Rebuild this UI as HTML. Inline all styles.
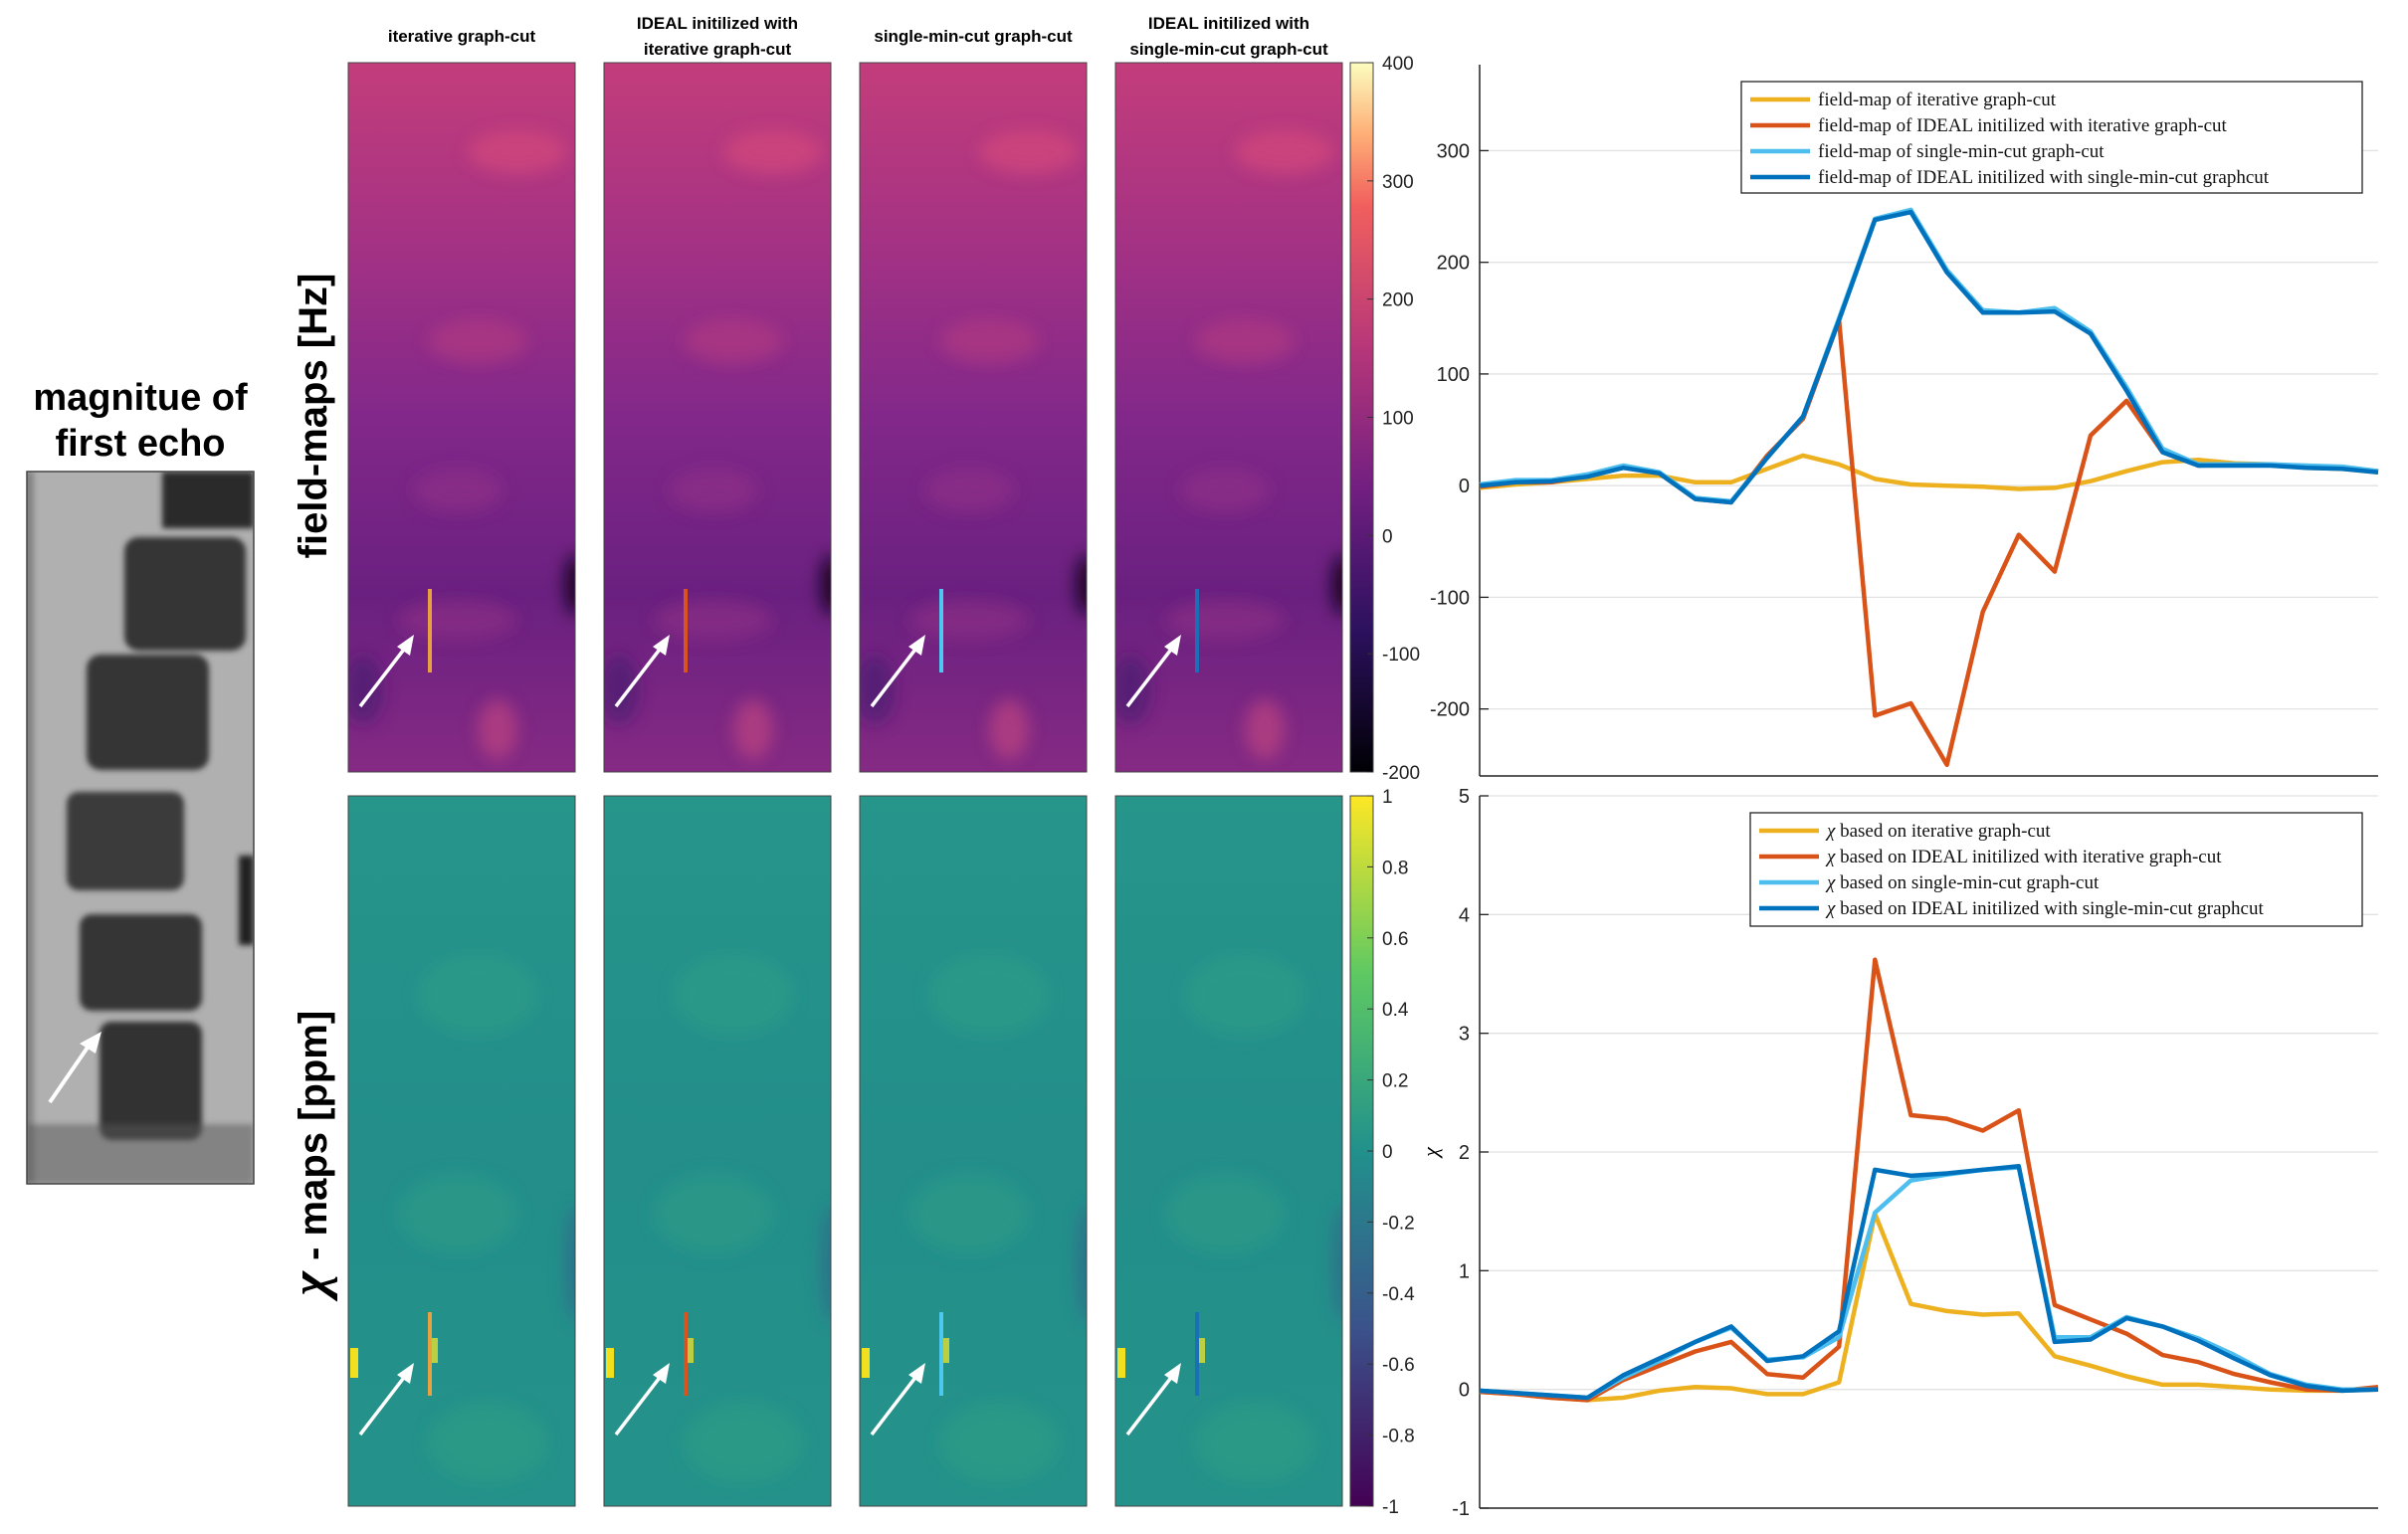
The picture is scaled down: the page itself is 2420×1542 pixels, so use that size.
<!DOCTYPE html>
<html><head><meta charset="utf-8">
<style>
html,body{margin:0;padding:0;background:#fff;}
svg{display:block;}
.t{font-family:"Liberation Sans",sans-serif;}
.s{font-family:"Liberation Serif",serif;}
</style></head>
<body>
<svg id="fig" width="2420" height="1542" viewBox="0 0 2420 1542" xmlns="http://www.w3.org/2000/svg">
<defs>
  <linearGradient id="fmGrad" x1="0" y1="0" x2="0" y2="1">
    <stop offset="0" stop-color="#c33d7b"/>
    <stop offset="0.25" stop-color="#a53284"/>
    <stop offset="0.5" stop-color="#82288a"/>
    <stop offset="0.75" stop-color="#6a2080"/>
    <stop offset="1" stop-color="#852a84"/>
  </linearGradient>
  <linearGradient id="chiGrad" x1="0" y1="0" x2="0" y2="1">
    <stop offset="0" stop-color="#26958a"/>
    <stop offset="0.5" stop-color="#238e8a"/>
    <stop offset="1" stop-color="#24928a"/>
  </linearGradient>
  <linearGradient id="magma" x1="0" y1="1" x2="0" y2="0">
    <stop offset="0" stop-color="#000004"/>
    <stop offset="0.2" stop-color="#2c115f"/>
    <stop offset="0.4" stop-color="#721f81"/>
    <stop offset="0.6" stop-color="#b73779"/>
    <stop offset="0.8" stop-color="#f1605d"/>
    <stop offset="0.9" stop-color="#feaf77"/>
    <stop offset="1" stop-color="#fcfdbf"/>
  </linearGradient>
  <linearGradient id="viridis" x1="0" y1="1" x2="0" y2="0">
    <stop offset="0" stop-color="#440154"/>
    <stop offset="0.25" stop-color="#3b528b"/>
    <stop offset="0.5" stop-color="#21918c"/>
    <stop offset="0.75" stop-color="#5ec962"/>
    <stop offset="1" stop-color="#fde725"/>
  </linearGradient>
  <filter id="blur"><feGaussianBlur stdDeviation="8"/></filter>
  <filter id="blur2"><feGaussianBlur stdDeviation="3"/></filter>
  <clipPath id="magClip"><rect x="27" y="474" width="228" height="716"/></clipPath>
</defs>

<!-- magnitude image -->
<text class="t" x="141" y="412" font-size="38" font-weight="bold" text-anchor="middle">magnitue of</text>
<text class="t" x="141" y="458" font-size="38" font-weight="bold" text-anchor="middle">first echo</text>
<g>
  <g clip-path="url(#magClip)">
  <rect x="27" y="474" width="228" height="716" fill="#b0b0b0"/>
  <g filter="url(#blur2)">
  <rect x="20" y="474" width="14" height="716" fill="#555" opacity="0.5"/>
  <rect x="163" y="474" width="92" height="57" fill="#2a2a2a"/>
  <rect x="125" y="540" width="122" height="114" rx="14" fill="#353535"/>
  <rect x="87" y="658" width="123" height="116" rx="14" fill="#363636"/>
  <rect x="67" y="796" width="118" height="99" rx="12" fill="#3a3a3a"/>
  <rect x="80" y="919" width="123" height="97" rx="12" fill="#363636"/>
  <rect x="100" y="1027" width="103" height="119" rx="12" fill="#333"/>
  <rect x="27" y="1130" width="228" height="60" fill="#555" opacity="0.5"/>
  <rect x="240" y="860" width="15" height="90" fill="#222"/>
  </g>
  </g>
  <rect x="27" y="474" width="228" height="716" fill="none" stroke="#444" stroke-width="1.5"/>
  <line x1="50" y1="1108" x2="92" y2="1047" stroke="#fff" stroke-width="4"/>
  <polygon points="102,1037 80,1049 96,1059" fill="#fff"/>
</g>

<!-- row labels -->
<text class="t" transform="translate(328,418) rotate(-90)" font-size="40" font-weight="bold" text-anchor="middle">field-maps [Hz]</text>
<text class="t" transform="translate(328,1159) rotate(-90)" font-size="40" font-weight="bold" text-anchor="middle"><tspan class="s" font-style="italic" font-size="52">χ</tspan> - maps [ppm]</text>

<!-- column titles -->
<text class="t" x="464" y="42" font-size="17" font-weight="bold" text-anchor="middle">iterative graph-cut</text>
<text class="t" x="721" y="29" font-size="17" font-weight="bold" text-anchor="middle">IDEAL initilized with</text>
<text class="t" x="721" y="55" font-size="17" font-weight="bold" text-anchor="middle">iterative graph-cut</text>
<text class="t" x="978" y="42" font-size="17" font-weight="bold" text-anchor="middle">single-min-cut graph-cut</text>
<text class="t" x="1235" y="29" font-size="17" font-weight="bold" text-anchor="middle">IDEAL initilized with</text>
<text class="t" x="1235" y="55" font-size="17" font-weight="bold" text-anchor="middle">single-min-cut graph-cut</text>

<g id="panels"></g>

<!-- colorbars -->
<g>
  <rect x="1357" y="63" width="23" height="713" fill="url(#magma)" stroke="#444" stroke-width="1"/>
</g>
<g>
  <rect x="1357" y="800" width="23" height="714" fill="url(#viridis)" stroke="#444" stroke-width="1"/>
</g>
<g id="cbticks"></g>

<g id="chartTop"></g>
<g id="chartBot"></g>
</svg>

<script>
// ===== chart data =====
const xIndex = [0,1,2,3,4,5,6,7,8,9,10,11,12,13,14,15,16,17,18,19,20,21,22,23,24,25];
const fmIterative = [-2,1,3,6,9,9,3,3,15,27,19,6,1,0,-1,-3,-2,4,13,21,23,20,19,16,15,12];
const fmIdealIterative = [-1,3,3,9,16,11,-12,-15,27,60,148,-206,-195,-250,-113,-44,-77,45,76,30,18,19,19,17,16,13];
const fmSingleMinCut = [1,5,5,10,18,12,-11,-14,25,62,150,239,247,193,157,155,159,138,88,33,19,19,19,18,17,13];
const fmIdealSingle = [0,3,4,8,16,11,-12,-15,25,62,148,238,245,191,155,155,156,136,85,30,18,18,18,16,15,12];
const fmTicks = [-200,-100,0,100,200,300];
const fmLegend = ["field-map of iterative graph-cut","field-map of IDEAL initilized with iterative graph-cut","field-map of single-min-cut graph-cut","field-map of IDEAL initilized with single-min-cut graphcut"];

const chiIterative = [-0.02,-0.04,-0.07,-0.09,-0.07,-0.01,0.02,0.01,-0.04,-0.04,0.06,1.48,0.72,0.66,0.63,0.64,0.28,0.2,0.11,0.04,0.04,0.02,0.0,-0.01,-0.01,0.0];
const chiIdealIterative = [-0.02,-0.04,-0.07,-0.09,0.08,0.2,0.32,0.4,0.13,0.1,0.36,3.62,2.31,2.28,2.18,2.35,0.71,0.59,0.47,0.29,0.23,0.13,0.06,0.0,-0.01,0.02];
const chiSingleMinCut = [-0.01,-0.03,-0.05,-0.07,0.1,0.24,0.4,0.52,0.25,0.27,0.44,1.49,1.76,1.81,1.85,1.87,0.44,0.44,0.61,0.53,0.43,0.29,0.13,0.04,0,0];
const chiIdealSingle = [-0.01,-0.03,-0.05,-0.07,0.12,0.26,0.4,0.53,0.24,0.28,0.49,1.85,1.8,1.82,1.85,1.88,0.4,0.42,0.6,0.53,0.41,0.26,0.12,0.03,-0.01,0];
const chiTicks = [-1,0,1,2,3,4,5];
const chiLegendText = [" based on iterative graph-cut"," based on IDEAL initilized with iterative graph-cut"," based on single-min-cut graph-cut"," based on IDEAL initilized with single-min-cut graphcut"];

const fmCbTicks = [400,300,200,100,0,-100,-200];
const chiCbTicks = ["1","0.8","0.6","0.4","0.2","0","-0.2","-0.4","-0.6","-0.8","-1"];

const NS = "http://www.w3.org/2000/svg";
const colors = ["#EDB120","#D95319","#4DBEEE","#0072BD"];
function mk(tag, attrs, parent){
  const e = document.createElementNS(NS, tag);
  for (const k in attrs) e.setAttribute(k, attrs[k]);
  if (parent) parent.appendChild(e);
  return e;
}

// ===== panels =====
const panelsG = document.getElementById('panels');
const defs = document.querySelector('defs');
const panelX = [350,607,864,1121];
const lineCols = ["#e8a040","#d9531e","#4dc8f0","#1a6fb8"];
const panelNames = ["iterative","ideal-iterative","single-min-cut","ideal-single"];
for (let row=0; row<2; row++){
  const top = row===0 ? 63 : 800;
  const h = row===0 ? 713 : 714;
  for (let i=0;i<4;i++){
    const x = panelX[i];
    const cid = 'pc'+row+'_'+i;
    const cp = mk('clipPath',{id:cid},defs);
    mk('rect',{x:x,y:top,width:228,height:h},cp);
    const g = mk('g', {}, panelsG);
    
    
    const inner = mk('g',{'clip-path':'url(#'+cid+')'},g);
    mk('rect', {x:x, y:top, width:228, height:h, fill: row===0?'url(#fmGrad)':'url(#chiGrad)'}, inner);
    const bl = mk('g', {filter:'url(#blur)'}, inner);
    if (row===0){
      mk('ellipse',{cx:x+170,cy:top+90,rx:50,ry:22,fill:'#e0507a',opacity:0.5},bl);
      mk('ellipse',{cx:x+130,cy:top+280,rx:50,ry:22,fill:'#c0407e',opacity:0.45},bl);
      mk('ellipse',{cx:x+110,cy:top+430,rx:45,ry:22,fill:'#9a3088',opacity:0.45},bl);
      mk('ellipse',{cx:x+228,cy:top+525,rx:10,ry:30,fill:'#120418',opacity:0.9},bl);
      mk('ellipse',{cx:x+150,cy:top+670,rx:20,ry:30,fill:'#c84a80',opacity:0.6},bl);
      mk('ellipse',{cx:x+15,cy:top+630,rx:20,ry:35,fill:'#4a1870',opacity:0.7},bl);
      mk('ellipse',{cx:x+110,cy:top+560,rx:60,ry:20,fill:'#a03888',opacity:0.4},bl);
    } else {
      mk('ellipse',{cx:x+130,cy:top+200,rx:60,ry:40,fill:'#35a586',opacity:0.35},bl);
      mk('ellipse',{cx:x+110,cy:top+420,rx:60,ry:40,fill:'#32a387',opacity:0.35},bl);
      mk('ellipse',{cx:x+228,cy:top+470,rx:10,ry:60,fill:'#31578c',opacity:0.5},bl);
      mk('ellipse',{cx:x+140,cy:top+650,rx:60,ry:40,fill:'#3aaa7e',opacity:0.3},bl);
      mk('rect',{x:x+2,y:top+555,width:8,height:30,fill:'#f0e020'},inner);
      mk('rect',{x:x+82,y:top+545,width:8,height:25,fill:'#e0e030',opacity:0.8},inner);
    }
    mk('rect', {x:x, y:top, width:228, height:h, fill:'none', stroke:'#444', 'stroke-width':1}, g);
    const ly1 = row===0 ? top+529 : top+519;
    mk('line',{x1:x+82,y1:ly1,x2:x+82,y2:ly1+84,stroke:lineCols[i],'stroke-width':4},g);
    const ay = row===0 ? top+575 : top+570;
    mk('line',{x1:x+12,y1:ay+72,x2:x+58,y2:ay+12,stroke:'#fff','stroke-width':3.5},g);
    mk('polygon',{points:`${x+66},${ay} ${x+49},${ay+12} ${x+62},${ay+21}`,fill:'#fff'},g);
  }
}

// ===== colorbar ticks =====
const cbG = document.getElementById('cbticks');
fmCbTicks.forEach((v,i)=>{
  const y = 776 - (v+200)/600*713;
  mk('line',{x1:1374,y1:y,x2:1380,y2:y,stroke:'#333','stroke-width':1},cbG);
  const t = mk('text',{x:1389,y:y+7,'font-size':19,class:'t',fill:'#222'},cbG);
  
  
  t.textContent = v;
});
chiCbTicks.forEach((v,i)=>{
  const y = 1514 - (parseFloat(v)+1)/2*714;
  mk('line',{x1:1374,y1:y,x2:1380,y2:y,stroke:'#333','stroke-width':1},cbG);
  const t = mk('text',{x:1389,y:y+7,'font-size':19,class:'t',fill:'#222'},cbG);
  
  
  t.textContent = v;
});

// ===== line charts =====
function drawChart(gid, rect, ylim, ticks, series, legendTexts, legendRect, chiPrefix, yLabel, namePrefix){
  const g = document.getElementById(gid);
  
  
  const X = i => rect.x0 + (rect.x1-rect.x0) * i / (xIndex.length-1);
  const Y = v => rect.y1 - (v-ylim[0])/(ylim[1]-ylim[0]) * (rect.y1-rect.y0);
  ticks.forEach(v=>{
    const y = Y(v);
    mk('line',{x1:rect.x0,y1:y,x2:rect.x1,y2:y,stroke:'#e2e2e2','stroke-width':1.3},g);
    mk('line',{x1:rect.x0,y1:y,x2:rect.x0+9,y2:y,stroke:'#222','stroke-width':1.3},g);
    const t = mk('text',{x:rect.x0-10,y:y+7,'font-size':20,'text-anchor':'end',class:'t',fill:'#222'},g);
    
    
    t.textContent = v;
  });
  mk('line',{x1:rect.x0,y1:rect.y0,x2:rect.x0,y2:rect.y1,stroke:'#222','stroke-width':1.5},g);
  mk('line',{x1:rect.x0,y1:rect.y1,x2:rect.x1,y2:rect.y1,stroke:'#222','stroke-width':1.5},g);
  if (yLabel){
    const t = mk('text',{x:0,y:0,transform:`translate(${rect.x0-42},${Y(2)}) rotate(-90)`,'font-size':22,'font-style':'italic','text-anchor':'middle',class:'s'},g);
    
    
    t.textContent = yLabel;
  }
  series.forEach((s,k)=>{
    const pts = s.map((v,i)=>X(xIndex[i]).toFixed(1)+','+Y(v).toFixed(1)).join(' ');
    const pl = mk('polyline',{points:pts,fill:'none',stroke:colors[k],'stroke-width':4.5,'stroke-linejoin':'round'},g);
    
    
  });
  const lg = mk('g',{},g);
  
  
  mk('rect',{x:legendRect.x,y:legendRect.y,width:legendRect.w,height:legendRect.h,fill:'#fff',stroke:'#222','stroke-width':1.3},lg);
  legendTexts.forEach((txt,k)=>{
    const y = legendRect.y + 18 + k*26;
    mk('line',{x1:legendRect.x+9,y1:y,x2:legendRect.x+69,y2:y,stroke:colors[k],'stroke-width':4.5},lg);
    const t = mk('text',{x:legendRect.x+77,y:y+6,'font-size':19,class:'s',fill:'#111'},lg);
    
    
    if (chiPrefix){
      const ts = mk('tspan',{'font-style':'italic'},t); ts.textContent = 'χ';
      const ts2 = mk('tspan',{},t); ts2.textContent = txt;
    } else t.textContent = txt;
  });
}
drawChart('chartTop',{x0:1487,x1:2390,y0:65,y1:780},[-260,377],fmTicks,
  [fmIterative,fmIdealIterative,fmSingleMinCut,fmIdealSingle],fmLegend,{x:1750,y:82,w:624,h:112},false,null,'fieldmap');
drawChart('chartBot',{x0:1487,x1:2390,y0:800,y1:1516},[-1,5],chiTicks,
  [chiIterative,chiIdealIterative,chiSingleMinCut,chiIdealSingle],chiLegendText,{x:1759,y:817,w:615,h:114},true,'χ','chi');
</script>
</body></html>
